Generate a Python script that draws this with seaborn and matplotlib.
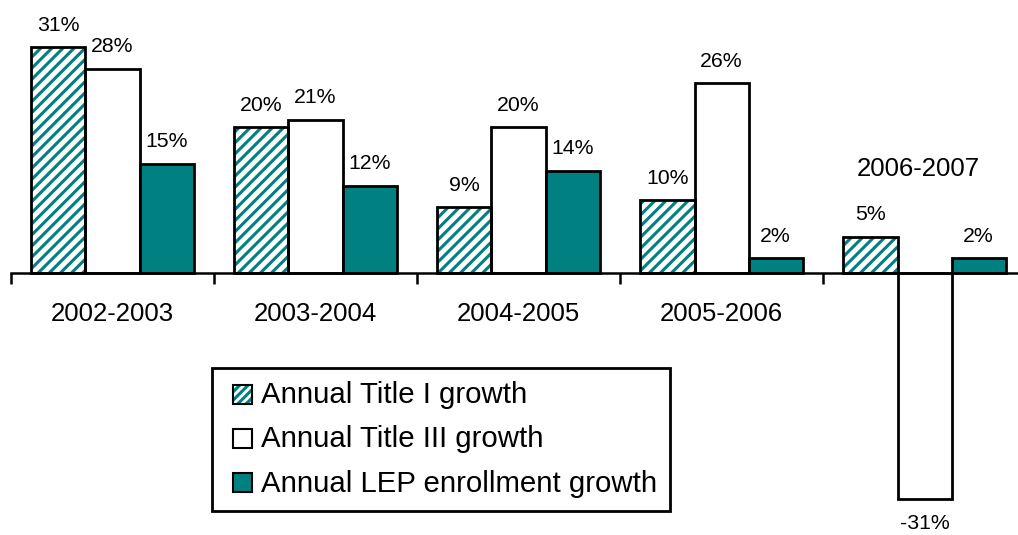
import matplotlib
matplotlib.use("Agg")
import matplotlib.pyplot as plt
from matplotlib.patches import Rectangle, Patch
import seaborn as sns
import pandas as pd

years = ["2002-2003", "2003-2004", "2004-2005", "2005-2006", "2006-2007"]
series = ["Annual Title I growth", "Annual Title III growth", "Annual LEP enrollment growth"]
title1 = [31, 20, 9, 10, 5]
title3 = [28, 21, 20, 26, -31]
lep = [15, 12, 14, 2, 2]

TEAL = "#008080"

rows = []
for name, vals in zip(series, [title1, title3, lep]):
    for y, v in zip(years, vals):
        rows.append({"year": y, "series": name, "growth": v})
df = pd.DataFrame(rows)

sns.set_theme(style="white")
plt.rcParams["font.family"] = ["Liberation Sans", "DejaVu Sans"]
plt.rcParams["text.color"] = "black"
plt.rcParams["hatch.linewidth"] = 2.2

fig = plt.figure(figsize=(10.18, 5.35), dpi=100)
ax = fig.add_axes([11 / 1018, 0, 1 - 11 / 1018, 1])

palette = {series[0]: "white", series[1]: "white", series[2]: TEAL}
sns.barplot(data=df, x="year", y="growth", hue="series", order=years,
            hue_order=series, palette=palette, width=0.8, saturation=1,
            edgecolor="black", linewidth=2, legend=False, ax=ax)

# hatched series: teal stripes under a black outline
for bar in ax.containers[0]:
    bar.set_edgecolor(TEAL)
    bar.set_linewidth(0)
    bar.set_hatch("///")
    ax.add_patch(Rectangle(bar.get_xy(), bar.get_width(), bar.get_height(),
                           facecolor="none", edgecolor="black", linewidth=2,
                           zorder=bar.get_zorder() + 0.1))

# value labels
for cont, vals in zip(ax.containers, [title1, title3, lep]):
    for bar, v in zip(cont, vals):
        x = bar.get_x() + bar.get_width() / 2
        if v >= 0:
            ax.annotate(f"{v}%", (x, v), xytext=(0, 9), textcoords="offset points",
                        ha="center", va="bottom", fontsize=15.3, color="black")
        else:
            ax.annotate(f"{v}%", (x, v), xytext=(0, -11), textcoords="offset points",
                        ha="center", va="top", fontsize=15.3, color="black")

ax.set_ylim(-35.94, 37.45)
ax.set_xlim(-0.5, 4.46)
for s in ["left", "right", "top"]:
    ax.spines[s].set_visible(False)
ax.spines["bottom"].set_position(("data", 0))
ax.spines["bottom"].set_color("black")
ax.spines["bottom"].set_linewidth(1.8)
ax.spines["bottom"].set_zorder(5)
ax.set_yticks([])
ax.set_xticks([i - 0.5 for i in range(len(years))])
ax.set_xticklabels([])
ax.tick_params(axis="x", direction="out", length=8, width=1.8, color="black", bottom=True)
ax.set_xlabel("")
ax.set_ylabel("")

# category labels
for i, y in enumerate(years):
    if min(title1[i], title3[i], lep[i]) < 0:
        ax.text(i - 0.03, 14.3, y, ha="center", va="center", fontsize=18.5, color="black")
    else:
        ax.text(i, -5.6, y, ha="center", va="center", fontsize=18.5, color="black")


class SquareHandler:
    """Legend key drawn as a small square at the right of the handle box."""

    def __init__(self, face, hatch=None):
        self.face = face
        self.hatch = hatch

    def legend_artist(self, legend, orig_handle, fontsize, handlebox):
        h = handlebox.height
        x = handlebox.xdescent + handlebox.width - h
        y = handlebox.ydescent
        tr = handlebox.get_transform()
        if self.hatch:
            handlebox.add_artist(Rectangle((x, y), h, h, facecolor="white",
                                           edgecolor=TEAL, hatch=self.hatch,
                                           linewidth=0, transform=tr))
            face = "none"
        else:
            face = self.face
        box = Rectangle((x, y), h, h, facecolor=face, edgecolor="black",
                        linewidth=1.5, transform=tr)
        handlebox.add_artist(box)
        return box


handles = [Patch(label=s) for s in series]
hmap = {
    handles[0]: SquareHandler("white", hatch="////"),
    handles[1]: SquareHandler("white"),
    handles[2]: SquareHandler(TEAL),
}
leg = ax.legend(handles, series, handler_map=hmap, loc="upper left",
                bbox_to_anchor=(201 / 1007, 1 - 368 / 535), fontsize=21.2,
                frameon=True, fancybox=False, edgecolor="black", framealpha=1,
                handlelength=0.92, handleheight=0.62, handletextpad=0.28,
                labelspacing=0.55, borderpad=0.45, borderaxespad=0)
leg.get_frame().set_linewidth(2)
for t in leg.get_texts():
    t.set_color("black")

fig.savefig("out.png", dpi=100)
